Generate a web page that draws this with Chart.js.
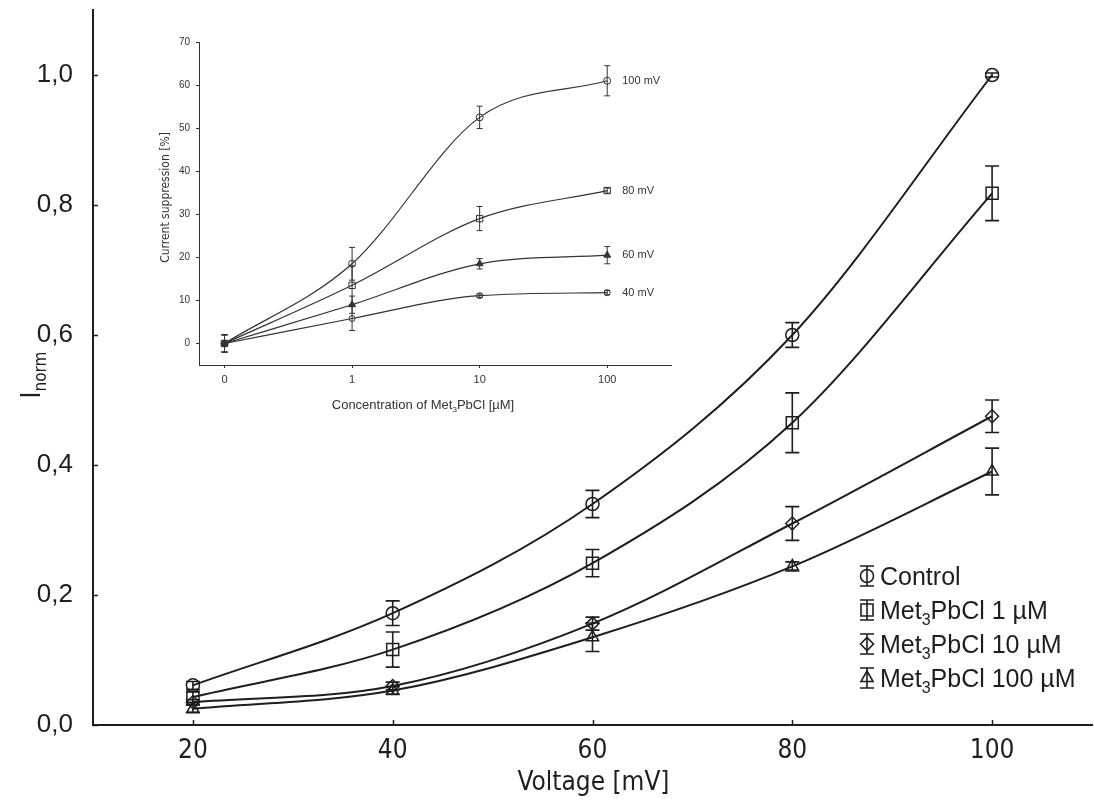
<!DOCTYPE html>
<html>
<head>
<meta charset="utf-8">
<script src="https://cdn.jsdelivr.net/npm/chart.js@4.4.1/dist/chart.umd.min.js"></script>
<style>
  html, body { margin: 0; padding: 0; background: #fff; }
  #wrap { position: relative; width: 1094px; height: 807px; overflow: hidden; }
  #main { position: absolute; left: 0; top: 0; }
  #inset { position: absolute; left: 140px; top: 30px; }
</style>
</head>
<body>
<div id="wrap">
  <canvas id="main" width="1102" height="807"></canvas>
  <canvas id="inset" width="540" height="392"></canvas>
</div>
<script>
// main panel: normalised current vs. voltage
const voltages = [20, 40, 60, 80, 100];
const controlMean = [0.061, 0.172, 0.34, 0.60, 1.0];
const controlErr = [0.006, 0.019, 0.021, 0.019, 0.003];
const met1Mean = [0.043, 0.116, 0.249, 0.465, 0.818];
const met1Err = [0.008, 0.027, 0.021, 0.046, 0.042];
const met10Mean = [0.035, 0.06, 0.156, 0.31, 0.475];
const met10Err = [0.004, 0.006, 0.01, 0.026, 0.025];
const met100Mean = [0.025, 0.053, 0.135, 0.244, 0.39];
const met100Err = [0.006, 0.006, 0.022, 0.007, 0.036];
const voltageTicks = [20, 40, 60, 80, 100];
const inormTicks = [0, 0.2, 0.4, 0.6, 0.8, 1.0];

// inset: suppression vs. concentration (log-spaced categories)
const concLabels = ['0', '1', '10', '100'];
const supp100 = [0, 18.5, 52.5, 61];
const supp100Err = [2, 3.8, 2.6, 3.5];
const supp80 = [0, 13.5, 29, 35.5];
const supp80Err = [2, 4.5, 2.8, 0.6];
const supp60 = [0, 9, 18.5, 20.5];
const supp60Err = [2, 2, 1.2, 2];
const supp40 = [0, 5.8, 11.1, 11.8];
const supp40Err = [2, 2.8, 0.4, 0.5];
const suppTicks = [0, 10, 20, 30, 40, 50, 60, 70];

const INK = '#1e1e1e';
const NARROW = '"Liberation Sans Narrow", "DejaVu Sans Condensed", "Liberation Sans", sans-serif';
const SANS = '"Liberation Sans", Arial, sans-serif';

function points(xs, ys) {
  return ys.map((y, i) => ({ x: xs[i], y }));
}

// keep tick labels from pushing the plot area inwards
function noScalePadding(s) {
  s.paddingLeft = 0;
  s.paddingRight = 0;
  s.paddingTop = 0;
  s.paddingBottom = 0;
}

// text with "₃" drawn as a lowered, smaller 3
function drawRich(ctx, text, x, y, size, family, align) {
  const parts = text.split(/(₃)/).filter(Boolean);
  const mainFont = `${size}px ${family}`;
  const subFont = `${Math.round(size * 0.64)}px ${family}`;
  const widths = parts.map((p) => {
    ctx.font = p === '₃' ? subFont : mainFont;
    return ctx.measureText(p === '₃' ? '3' : p).width;
  });
  const total = widths.reduce((a, b) => a + b, 0);
  let cx = align === 'center' ? x - total / 2 : x;
  ctx.textAlign = 'left';
  ctx.textBaseline = 'alphabetic';
  parts.forEach((p, i) => {
    const sub = p === '₃';
    ctx.font = sub ? subFont : mainFont;
    ctx.fillText(sub ? '3' : p, cx, y + (sub ? size * 0.22 : 0));
    cx += widths[i];
  });
}

const errorBars = {
  id: 'errorBars',
  afterDatasetsDraw(chart, args, opts) {
    const { ctx } = chart;
    const yScale = chart.scales.y;
    ctx.save();
    ctx.strokeStyle = opts.color;
    ctx.lineWidth = opts.width;
    chart.data.datasets.forEach((ds, di) => {
      const meta = chart.getDatasetMeta(di);
      meta.data.forEach((pt, i) => {
        const v = ds.data[i].y;
        const err = ds.errors[i];
        const top = yScale.getPixelForValue(v + err);
        const bot = yScale.getPixelForValue(v - err);
        ctx.beginPath();
        ctx.moveTo(pt.x, top);
        ctx.lineTo(pt.x, bot);
        ctx.moveTo(pt.x - opts.cap, top);
        ctx.lineTo(pt.x + opts.cap, top);
        ctx.moveTo(pt.x - opts.cap, bot);
        ctx.lineTo(pt.x + opts.cap, bot);
        ctx.stroke();
      });
    });
    ctx.restore();
  },
};

// tick marks pointing into the plot area
const inwardTicks = {
  id: 'inwardTicks',
  afterDraw(chart, args, opts) {
    const { ctx, chartArea, scales } = chart;
    ctx.save();
    ctx.strokeStyle = opts.color;
    ctx.lineWidth = opts.width;
    scales.x.ticks.forEach((t) => {
      const px = Math.round(scales.x.getPixelForValue(t.value)) + 0.5;
      ctx.beginPath();
      ctx.moveTo(px, chartArea.bottom);
      ctx.lineTo(px, chartArea.bottom - opts.len);
      ctx.stroke();
    });
    scales.y.ticks.forEach((t) => {
      const py = Math.round(scales.y.getPixelForValue(t.value)) + 0.5;
      ctx.beginPath();
      ctx.moveTo(chartArea.left, py);
      ctx.lineTo(chartArea.left + opts.len, py);
      ctx.stroke();
    });
    ctx.restore();
  },
};

const mainLegend = {
  id: 'mainLegend',
  afterDraw(chart, args, opts) {
    const { ctx } = chart;
    ctx.save();
    chart.data.datasets.forEach((ds, i) => {
      const cy = opts.top + i * opts.rowGap;
      const ix = opts.left;
      ctx.strokeStyle = INK;
      ctx.lineWidth = 1.6;
      ctx.beginPath();
      ctx.moveTo(ix, cy - 10);
      ctx.lineTo(ix, cy + 10);
      ctx.moveTo(ix - 7, cy - 10);
      ctx.lineTo(ix + 7, cy - 10);
      ctx.moveTo(ix - 7, cy + 10);
      ctx.lineTo(ix + 7, cy + 10);
      ctx.stroke();
      ctx.fillStyle = 'rgba(0,0,0,0)';
      Chart.helpers.drawPoint(ctx, {
        pointStyle: ds.pointStyle,
        radius: ds.pointRadius,
        rotation: 0,
        borderWidth: 1.5,
      }, ix, cy);
      ctx.fillStyle = INK;
      drawRich(ctx, ds.label, ix + 13, cy + 9, opts.size, SANS, 'left');
    });
    ctx.restore();
  },
};

const mainTitles = {
  id: 'mainTitles',
  afterDraw(chart) {
    const { ctx, chartArea } = chart;
    ctx.save();
    ctx.fillStyle = INK;
    ctx.font = `26px ${NARROW}`;
    ctx.textAlign = 'center';
    ctx.textBaseline = 'middle';
    ctx.fillText('Voltage [mV]', (chartArea.left + chartArea.right) / 2 + 1, chartArea.bottom + 58);
    // I with subscript "norm", rotated
    ctx.translate(40, 375);
    ctx.rotate(-Math.PI / 2);
    ctx.textAlign = 'left';
    ctx.textBaseline = 'alphabetic';
    ctx.font = `26px ${NARROW}`;
    const w = ctx.measureText('I').width;
    ctx.font = `17px ${NARROW}`;
    const w2 = ctx.measureText('norm').width;
    const x0 = -(w + w2) / 2;
    ctx.font = `26px ${NARROW}`;
    ctx.fillText('I', x0, 0);
    ctx.font = `17px ${NARROW}`;
    ctx.fillText('norm', x0 + w, 6);
    ctx.restore();
  },
};

new Chart(document.getElementById('main'), {
  type: 'line',
  data: {
    datasets: [
      { label: 'Control', data: points(voltages, controlMean), errors: controlErr, pointStyle: 'circle', pointRadius: 6.5 },
      { label: 'Met₃PbCl 1 µM', data: points(voltages, met1Mean), errors: met1Err, pointStyle: 'rect', pointRadius: 8.5 },
      { label: 'Met₃PbCl 10 µM', data: points(voltages, met10Mean), errors: met10Err, pointStyle: 'rectRot', pointRadius: 6.5 },
      { label: 'Met₃PbCl 100 µM', data: points(voltages, met100Mean), errors: met100Err, pointStyle: 'triangle', pointRadius: 7 },
    ].map((ds) => ({
      ...ds,
      borderColor: INK,
      borderWidth: 2,
      backgroundColor: 'rgba(0,0,0,0)',
      pointBorderColor: INK,
      pointBorderWidth: 1.5,
      pointBackgroundColor: 'rgba(0,0,0,0)',
      cubicInterpolationMode: 'monotone',
    })),
  },
  options: {
    responsive: false,
    animation: false,
    events: [],
    layout: { padding: { top: 10, right: 2, left: 0, bottom: 0 } },
    plugins: {
      legend: { display: false },
      tooltip: { enabled: false },
      errorBars: { color: INK, width: 1.6, cap: 7 },
      inwardTicks: { color: INK, width: 1.5, len: 5 },
      mainLegend: { left: 867, top: 576, rowGap: 34, size: 25 },
    },
    scales: {
      x: {
        type: 'linear',
        min: 10,
        max: 110,
        afterBuildTicks: (s) => { s.ticks = voltageTicks.map((v) => ({ value: v })); },
        afterFit: (s) => { s.height = 82; noScalePadding(s); },
        grid: { display: false, drawTicks: false },
        border: { color: INK, width: 2 },
        ticks: { color: INK, font: { family: NARROW, size: 26 }, padding: 11, maxRotation: 0 },
      },
      y: {
        type: 'linear',
        min: 0,
        max: 1.1,
        afterBuildTicks: (s) => { s.ticks = inormTicks.map((v) => ({ value: v })); },
        afterFit: (s) => { s.width = 93; noScalePadding(s); },
        grid: { display: false, drawTicks: false },
        border: { color: INK, width: 2 },
        ticks: {
          color: INK,
          font: { family: SANS, size: 26 },
          padding: 20,
          callback: (v) => v.toFixed(1).replace('.', ','),
        },
      },
    },
  },
  plugins: [errorBars, inwardTicks, mainLegend, mainTitles],
});

// inset chart
const insetLabels = {
  id: 'insetLabels',
  afterDraw(chart) {
    const { ctx, chartArea } = chart;
    ctx.save();
    ctx.fillStyle = '#333';
    ctx.font = `11px ${SANS}`;
    ctx.textBaseline = 'middle';
    ctx.textAlign = 'left';
    chart.data.datasets.forEach((ds, i) => {
      const meta = chart.getDatasetMeta(i);
      const last = meta.data[meta.data.length - 1];
      ctx.fillText(ds.label, last.x + 15, last.y);
    });
    drawRich(ctx, 'Concentration of Met₃PbCl [µM]', (chartArea.left + chartArea.right) / 2 - 12, chartArea.bottom + 44, 13, SANS, 'center');
    ctx.translate(chartArea.left - 33, (chartArea.top + chartArea.bottom) / 2 - 6);
    ctx.rotate(-Math.PI / 2);
    ctx.font = `12px ${NARROW}`;
    ctx.textAlign = 'center';
    ctx.textBaseline = 'middle';
    ctx.fillText('Current suppression [%]', 0, 0);
    ctx.restore();
  },
};

const concIdx = concLabels.map((_, i) => i);

new Chart(document.getElementById('inset'), {
  type: 'line',
  data: {
    datasets: [
      { label: '100 mV', data: points(concIdx, supp100), errors: supp100Err, pointStyle: 'circle', pointRadius: 3.5, pointBackgroundColor: 'rgba(0,0,0,0)' },
      { label: '80 mV', data: points(concIdx, supp80), errors: supp80Err, pointStyle: 'rect', pointRadius: 4.5, pointBackgroundColor: 'rgba(0,0,0,0)' },
      { label: '60 mV', data: points(concIdx, supp60), errors: supp60Err, pointStyle: 'triangle', pointRadius: 4, pointBackgroundColor: '#333' },
      { label: '40 mV', data: points(concIdx, supp40), errors: supp40Err, pointStyle: 'circle', pointRadius: 3, pointBackgroundColor: 'rgba(0,0,0,0)' },
    ].map((ds) => ({
      ...ds,
      borderColor: '#333',
      borderWidth: 1.2,
      backgroundColor: 'rgba(0,0,0,0)',
      pointBorderColor: '#333',
      pointBorderWidth: 1,
      cubicInterpolationMode: 'monotone',
    })),
  },
  options: {
    responsive: false,
    animation: false,
    events: [],
    layout: { padding: { top: 12, right: 9, left: 0, bottom: 0 } },
    plugins: {
      legend: { display: false },
      tooltip: { enabled: false },
      errorBars: { color: '#333', width: 1, cap: 3 },
    },
    scales: {
      x: {
        type: 'linear',
        min: -0.2,
        max: 3.5,
        afterBuildTicks: (s) => { s.ticks = concIdx.map((v) => ({ value: v })); },
        afterFit: (s) => { s.height = 57; noScalePadding(s); },
        grid: { drawOnChartArea: false, drawTicks: true, tickLength: 3, color: '#333' },
        border: { color: '#333', width: 1 },
        ticks: { color: '#333', font: { family: SANS, size: 11 }, padding: 5, callback: (v) => concLabels[v] },
      },
      y: {
        type: 'linear',
        min: -5,
        max: 70,
        afterBuildTicks: (s) => { s.ticks = suppTicks.map((v) => ({ value: v })); },
        afterFit: (s) => { s.width = 59; noScalePadding(s); },
        grid: { drawOnChartArea: false, drawTicks: true, tickLength: 3, color: '#333' },
        border: { color: '#333', width: 1 },
        ticks: { color: '#333', font: { family: SANS, size: 10 }, padding: 6 },
      },
    },
  },
  plugins: [errorBars, insetLabels],
});
</script>
</body>
</html>
